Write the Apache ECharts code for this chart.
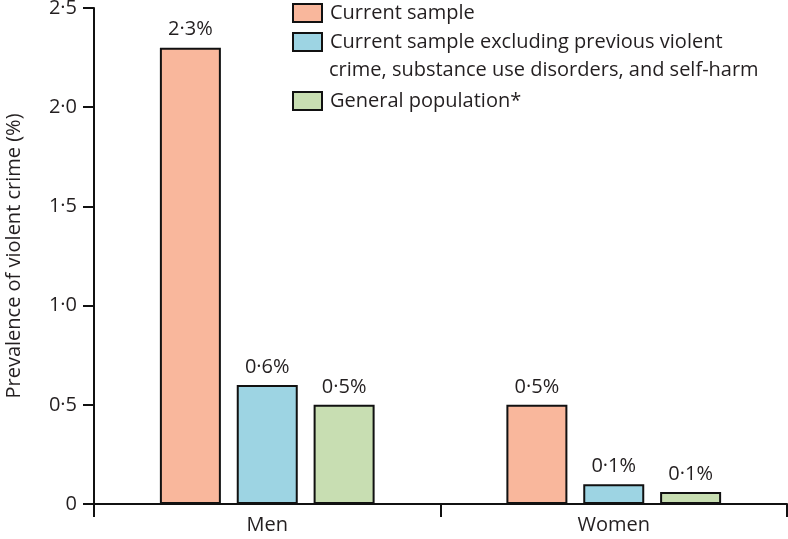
<!DOCTYPE html>
<html>
<head>
<meta charset="utf-8">
<script src="https://cdn.jsdelivr.net/npm/echarts@6/dist/echarts.min.js"></script>
<style>html,body{margin:0;padding:0;background:#fff;}#c{width:788px;height:539px;}</style>
</head>
<body>
<div id="c"></div>
<script>
const categories = ['Men', 'Women'];
const seriesNames = ['Current sample', 'Current sample excluding previous violent', 'General population*'];
const legendSecondLine = 'crime, substance use disorders, and self-harm';
const currentSample = [2.3, 0.5];
const excludingSample = [0.6, 0.1];
const generalPopulation = [0.5, 0.06];
const currentLabels = ['2·3%', '0·5%'];
const excludingLabels = ['0·6%', '0·1%'];
const generalLabels = ['0·5%', '0·1%'];
const yTicks = [0, 0.5, 1.0, 1.5, 2.0, 2.5];
const yTitle = 'Prevalence of violent crime (%)';

const FONT = 'Open Sans';
const TXT = '#231f20';
const colors = ['#f9b79c', '#9dd4e3', '#c8deb2'];

const chart = echarts.init(document.getElementById('c'), null, {renderer: 'canvas'});

function makeSeries(name, data, labels, color) {
  return {
    name: name,
    type: 'bar',
    data: data,
    barWidth: 61,
    barGap: '26%',
    itemStyle: {color: color, borderColor: '#111', borderWidth: 2},
    label: {
      show: true, position: 'top', distance: 8,
      fontFamily: FONT, fontSize: 20, color: TXT,
      formatter: p => labels[p.dataIndex]
    },
    emphasis: {disabled: true}
  };
}

function legendFor(name, top) {
  return {
    data: [name], left: 292, top: top, padding: 0,
    icon: 'rect', itemWidth: 29, itemHeight: 18,
    selectedMode: false,
    textStyle: {fontFamily: FONT, fontSize: 20, color: TXT, padding: [0, 0, 0, 3]}
  };
}

chart.setOption({
  animation: false,
  textStyle: {fontFamily: FONT},
  grid: {left: 94, right: 1, top: 8, bottom: 35, containLabel: false, outerBoundsMode: 'none'},
  legend: [
    legendFor(seriesNames[0], 3),
    legendFor(seriesNames[1], 32),
    legendFor(seriesNames[2], 91)
  ],
  graphic: [{
    type: 'text', left: 329, top: 60,
    style: {text: legendSecondLine, fontFamily: FONT, fontSize: 20, fill: TXT}
  }],
  xAxis: {
    type: 'category', data: categories, boundaryGap: true,
    axisLine: {lineStyle: {color: '#111', width: 2}},
    axisTick: {show: true, length: 13, lineStyle: {color: '#111', width: 2}},
    axisLabel: {fontFamily: FONT, fontSize: 20, color: TXT, margin: 11}
  },
  yAxis: {
    type: 'value', min: 0, max: 2.5, interval: 0.5,
    name: yTitle, nameLocation: 'middle', nameGap: 70,
    nameTextStyle: {fontFamily: FONT, fontSize: 20, color: TXT},
    axisLine: {show: true, lineStyle: {color: '#111', width: 2}},
    axisTick: {show: true, length: 11, lineStyle: {color: '#111', width: 2}},
    splitLine: {show: false},
    axisLabel: {
      fontFamily: FONT, fontSize: 20, color: TXT, margin: 17,
      formatter: v => {
        const t = yTicks.find(x => Math.abs(x - v) < 1e-9);
        if (t === undefined) return '';
        return t === 0 ? '0' : t.toFixed(1).replace('.', '·');
      }
    }
  },
  series: [
    makeSeries(seriesNames[0], currentSample, currentLabels, colors[0]),
    makeSeries(seriesNames[1], excludingSample, excludingLabels, colors[1]),
    makeSeries(seriesNames[2], generalPopulation, generalLabels, colors[2])
  ]
});
</script>
</body>
</html>
